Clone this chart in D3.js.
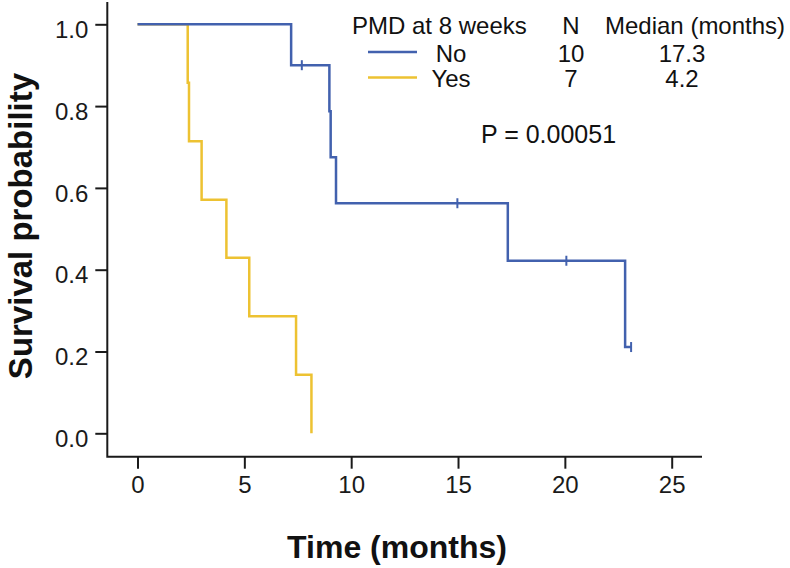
<!DOCTYPE html>
<html><head><meta charset="utf-8">
<script src="https://cdn.jsdelivr.net/npm/d3@7"></script>
<style>body{margin:0;background:#fff}svg{display:block}text{font-family:"Liberation Sans",Arial,sans-serif}</style>
</head><body><svg id="c" width="790" height="568"></svg>
<script>
// ---- data ----
const groups = ["No", "Yes"];
const groupN = [10, 7];
const groupMedian = ["17.3", "4.2"];
const groupColors = ["#4261AE", "#EDC232"];
// Kaplan-Meier steps: event times (months) and survival after each event
const noTimes = [0, 7.19, 8.98, 9.04, 9.29, 17.33, 22.82, 23.1];
const noSurv  = [1.0, 0.9, 0.7875, 0.675, 0.5625, 0.4219, 0.2109, 0.2109];
const noCensorTimes = [7.69, 14.97, 20.07, 23.1];
const noCensorSurv  = [0.9, 0.5625, 0.4219, 0.2109];
const yesTimes = [0, 2.35, 2.41, 3.0, 4.16, 5.23, 7.42, 8.14];
const yesSurv  = [1.0, 0.857, 0.714, 0.571, 0.429, 0.286, 0.143, 0.0];
const xTicks = [0, 5, 10, 15, 20, 25];
const yTicks = [0, 0.2, 0.4, 0.6, 0.8, 1.0];
const pText = "P = 0.00051";

const svg = d3.select("#c");
const x = d3.scaleLinear().domain([0, 25]).range([137.5, 671.7]);
const y = d3.scaleLinear().domain([0, 1]).range([433.3, 24.3]);
const axisLeftX = 107.3, axisBottomY = 456.7, axisTopY = 2, axisRightX = 702;

// axes
const gx = svg.append("g").attr("transform", `translate(0,${axisBottomY})`)
  .call(d3.axisBottom(x).tickValues(xTicks).tickFormat(d3.format("d")).tickSize(12).tickPadding(7).tickSizeOuter(0));
gx.select(".domain").remove();
const gy = svg.append("g").attr("transform", `translate(${axisLeftX},0)`)
  .call(d3.axisLeft(y).tickValues(yTicks).tickFormat(d3.format(".1f")).tickSize(12).tickPadding(7).tickSizeOuter(0));
gy.select(".domain").remove();
[gx, gy].forEach(g => {
  g.selectAll("line").attr("stroke", "#1a1a1a").attr("stroke-width", 2);
  g.selectAll("text").attr("font-size", 24).attr("fill", "#1a1a1a")
   .attr("font-family", '"Liberation Sans", Arial, sans-serif');
});
gy.selectAll("text").attr("dy", "0.55em");
svg.append("path")
  .attr("d", `M${axisLeftX},${axisTopY}V${axisBottomY}H${axisRightX}`)
  .attr("fill", "none").attr("stroke", "#1a1a1a").attr("stroke-width", 2);

// axis titles
svg.append("text").attr("x", 397).attr("y", 558).attr("text-anchor", "middle")
  .attr("font-size", 32).attr("font-weight", "bold").attr("fill", "#111").text("Time (months)");
svg.append("text").attr("transform", "translate(32,226) rotate(-90)").attr("text-anchor", "middle")
  .attr("font-size", 33).attr("font-weight", "bold").attr("fill", "#111").text("Survival probability");

// curves (Yes drawn first so No lies on top along the shared 1.0 segment)
const line = d3.line().x(d => x(d[0])).y(d => y(d[1])).curve(d3.curveStepAfter);
const series = [
  {pts: d3.zip(yesTimes, yesSurv), color: groupColors[1]},
  {pts: d3.zip(noTimes, noSurv), color: groupColors[0]}
];
svg.selectAll("path.km").data(series).join("path").attr("class", "km")
  .attr("d", d => line(d.pts)).attr("fill", "none")
  .attr("stroke", d => d.color).attr("stroke-width", 2.5);
// censor marks
svg.selectAll("line.cens").data(d3.zip(noCensorTimes, noCensorSurv)).join("line").attr("class", "cens")
  .attr("x1", d => x(d[0])).attr("x2", d => x(d[0]))
  .attr("y1", d => y(d[1]) - 5).attr("y2", d => y(d[1]) + 5)
  .attr("stroke", groupColors[0]).attr("stroke-width", 2);

// legend
const lg = svg.append("g").attr("font-size", 24).attr("fill", "#111");
lg.append("text").attr("x", 352).attr("y", 34).text("PMD at 8 weeks");
lg.append("text").attr("x", 571).attr("y", 34).attr("text-anchor", "middle").text("N");
lg.append("text").attr("x", 605).attr("y", 34).text("Median (months)");
groups.forEach((g, i) => {
  const yy = 61.5 + i * 25.5;
  lg.append("line").attr("x1", 368).attr("x2", 417).attr("y1", yy - 9.5).attr("y2", yy - 9.5)
    .attr("stroke", groupColors[i]).attr("stroke-width", 2.5);
  lg.append("text").attr("x", 451).attr("y", yy).attr("text-anchor", "middle").text(g);
  lg.append("text").attr("x", 571).attr("y", yy).attr("text-anchor", "middle").text(groupN[i]);
  lg.append("text").attr("x", 682).attr("y", yy).attr("text-anchor", "middle").text(groupMedian[i]);
});
svg.append("text").attr("x", 481).attr("y", 143).attr("font-size", 25).attr("fill", "#111").text(pText);
</script></body></html>
